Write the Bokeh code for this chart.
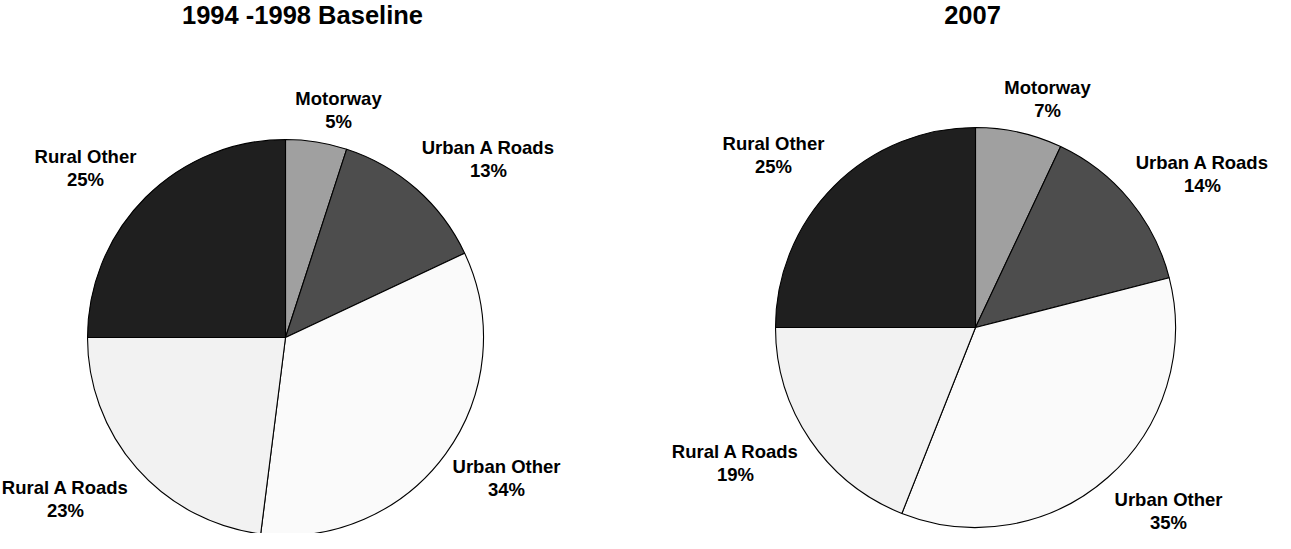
import math
from bokeh.plotting import figure
from bokeh.models import Range1d, ColumnDataSource
from bokeh.core.properties import value
from bokeh.embed import file_html
from bokeh.resources import INLINE

# ---- data ----
categories = ["Motorway", "Urban A Roads", "Urban Other", "Rural A Roads", "Rural Other"]
baseline_pct = [5, 13, 34, 23, 25]
pct_2007 = [7, 14, 35, 19, 25]
titles = ["1994 -1998 Baseline", "2007"]
slice_colors = ["#a0a0a0", "#4d4d4d", "#fafafa", "#f2f2f2", "#1f1f1f"]

# ---- layout ----
W, H = 1275, 533
SHIFT = 6
FONT = value("Liberation Sans")


def px(x):
    return x - 8


def py(y, shift=SHIFT):
    return H - (y - 8 - shift)


pies = [
    dict(title=titles[0], values=baseline_pct, cx=293, cy=351, r=198, title_x=310,
         labels=[(346, 123.5), (496, 172), (514, 491.5), (73, 512.5), (93, 181)]),
    dict(title=titles[1], values=pct_2007, cx=983, cy=341, r=200, title_x=980,
         labels=[(1055, 112.5), (1210, 187.5), (1176, 524.5), (743, 476), (781, 168)]),
]

p = figure(width=W, height=H, output_backend="svg", toolbar_location=None,
           x_range=Range1d(0, W), y_range=Range1d(0, H), min_border=0)
p.axis.visible = False
p.xgrid.visible = False
p.ygrid.visible = False
p.outline_line_color = None
p.background_fill_color = "white"
p.border_fill_color = "white"

for pie in pies:
    vals = pie["values"]
    total = float(sum(vals))
    starts, ends = [], []
    cum = 0.0
    for v in vals:
        a0 = math.pi / 2 - 2 * math.pi * cum / total
        cum += v
        a1 = math.pi / 2 - 2 * math.pi * cum / total
        starts.append(a1)
        ends.append(a0)
    src = ColumnDataSource(dict(
        x=[px(pie["cx"])] * len(vals),
        y=[py(pie["cy"])] * len(vals),
        start=starts, end=ends, color=slice_colors,
    ))
    p.wedge(x="x", y="y", radius=pie["r"], start_angle="start", end_angle="end",
            fill_color="color", line_color="black", line_width=1.1, source=src)

    # title
    p.text(x=[px(pie["title_x"])], y=[py(23, shift=1)], text=[pie["title"]],
           text_font=FONT, text_font_style="bold", text_font_size="25.5px",
           text_align="center", text_baseline="middle", text_color="black")

    # labels
    names_x, names_y, pct_y, pct_txt = [], [], [], []
    for (lx, ly), name, v in zip(pie["labels"], categories, vals):
        names_x.append(px(lx))
        names_y.append(py(ly - 11.5))
        pct_y.append(py(ly + 11.5))
        pct_txt.append(f"{v}%")
    p.text(x=names_x, y=names_y, text=categories, text_font=FONT,
           text_font_style="bold", text_font_size="18.5px",
           text_align="center", text_baseline="middle", text_color="black")
    p.text(x=names_x, y=pct_y, text=pct_txt, text_font=FONT,
           text_font_style="bold", text_font_size="18.5px",
           text_align="center", text_baseline="middle", text_color="black")

open("out.html", "w").write(file_html(p, INLINE))
